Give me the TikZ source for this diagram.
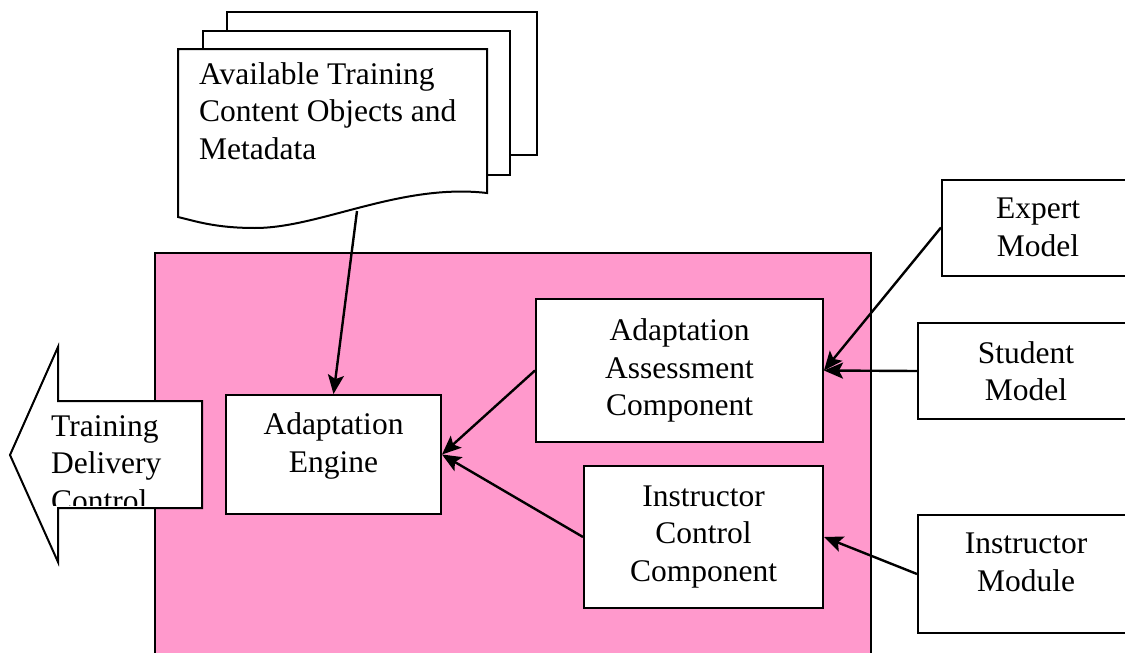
\documentclass[tikz,border=0pt]{standalone}
\usepackage{fontspec}
\setmainfont{Liberation Serif}
\usetikzlibrary{arrows.meta}
\definecolor{panelpink}{RGB}{255,153,204}

\begin{document}
\begin{tikzpicture}[x=1pt,y=-1pt,
    font=\fontsize{31.5}{37.5}\selectfont,
    box/.style={draw,line width=2pt,fill=white,align=center,inner sep=0pt},
    sheet/.style={draw,line width=2pt,fill=white},
    link/.style={line width=2.4pt,-{Stealth[length=19pt,width=16pt,inset=4pt]}}]
  \useasboundingbox (0,0) rectangle (1125,653);
  \clip (0,0) rectangle (1125,653);

  % pink panel
  \filldraw [panelpink,draw=black,line width=1.6pt] (155,253) rectangle (871,700);

  % stack of content sheets
  \filldraw [sheet] (227,12) rectangle (537,155);
  \filldraw [sheet] (203,31) rectangle (510,175);
  \filldraw [sheet] (178,49) -- (487,49) -- (487,193)
      .. controls (400,183) and (320,228) .. (255,228)
      .. controls (215,228) and (195,221) .. (178,217) -- cycle;
  \node [align=left,anchor=north west,inner sep=0pt] (content) at (199,62)
      {Available Training\\Content Objects and\\Metadata};
  \coordinate (contentfoot) at (357,211);

  % delivery arrow
  \filldraw [sheet] (10,455) -- (58,347) -- (58,401) -- (202,401)
      -- (202,508) -- (58,508) -- (58,562) -- cycle;
  \begin{scope}
    \clip (20,403) rectangle (200,505);
    \node [align=left,anchor=north west,inner sep=0pt] (delivery) at (51,415)
        {Training\\Delivery\\Control};
  \end{scope}

  % inner components
  \node [box,minimum width=215pt,minimum height=119pt] (engine) at (333.5,454.5)
      {Adaptation\\Engine\\[-14pt]};
  \node [box,minimum width=287pt,minimum height=143pt] (assess) at (679.5,370.5)
      {Adaptation\\Assessment\\Component};
  \node [box,minimum width=239pt,minimum height=142pt] (instr) at (703.5,537)
      {Instructor\\Control\\Component};

  % outside models
  \node [box,minimum width=192pt,minimum height=96pt] (expert) at (1038,227.5)
      {Expert\\Model};
  \node [box,minimum width=216pt,minimum height=96pt] (student) at (1026,371)
      {Student\\Model};
  \node [box,minimum width=216pt,minimum height=118pt] (module) at (1026,574)
      {Instructor\\Module\\[-14pt]};

  % connectors
  \draw [link] (contentfoot) -- (engine.north);
  \draw [link] (assess.west) -- (engine.east);
  \draw [link] (instr.west) -- (engine.east);
  \draw [link] (expert.west) -- (assess.east);
  \draw [link] (student.west) -- (assess.east);
  \draw [link] (module.west) -- (instr.east);
\end{tikzpicture}
\end{document}
